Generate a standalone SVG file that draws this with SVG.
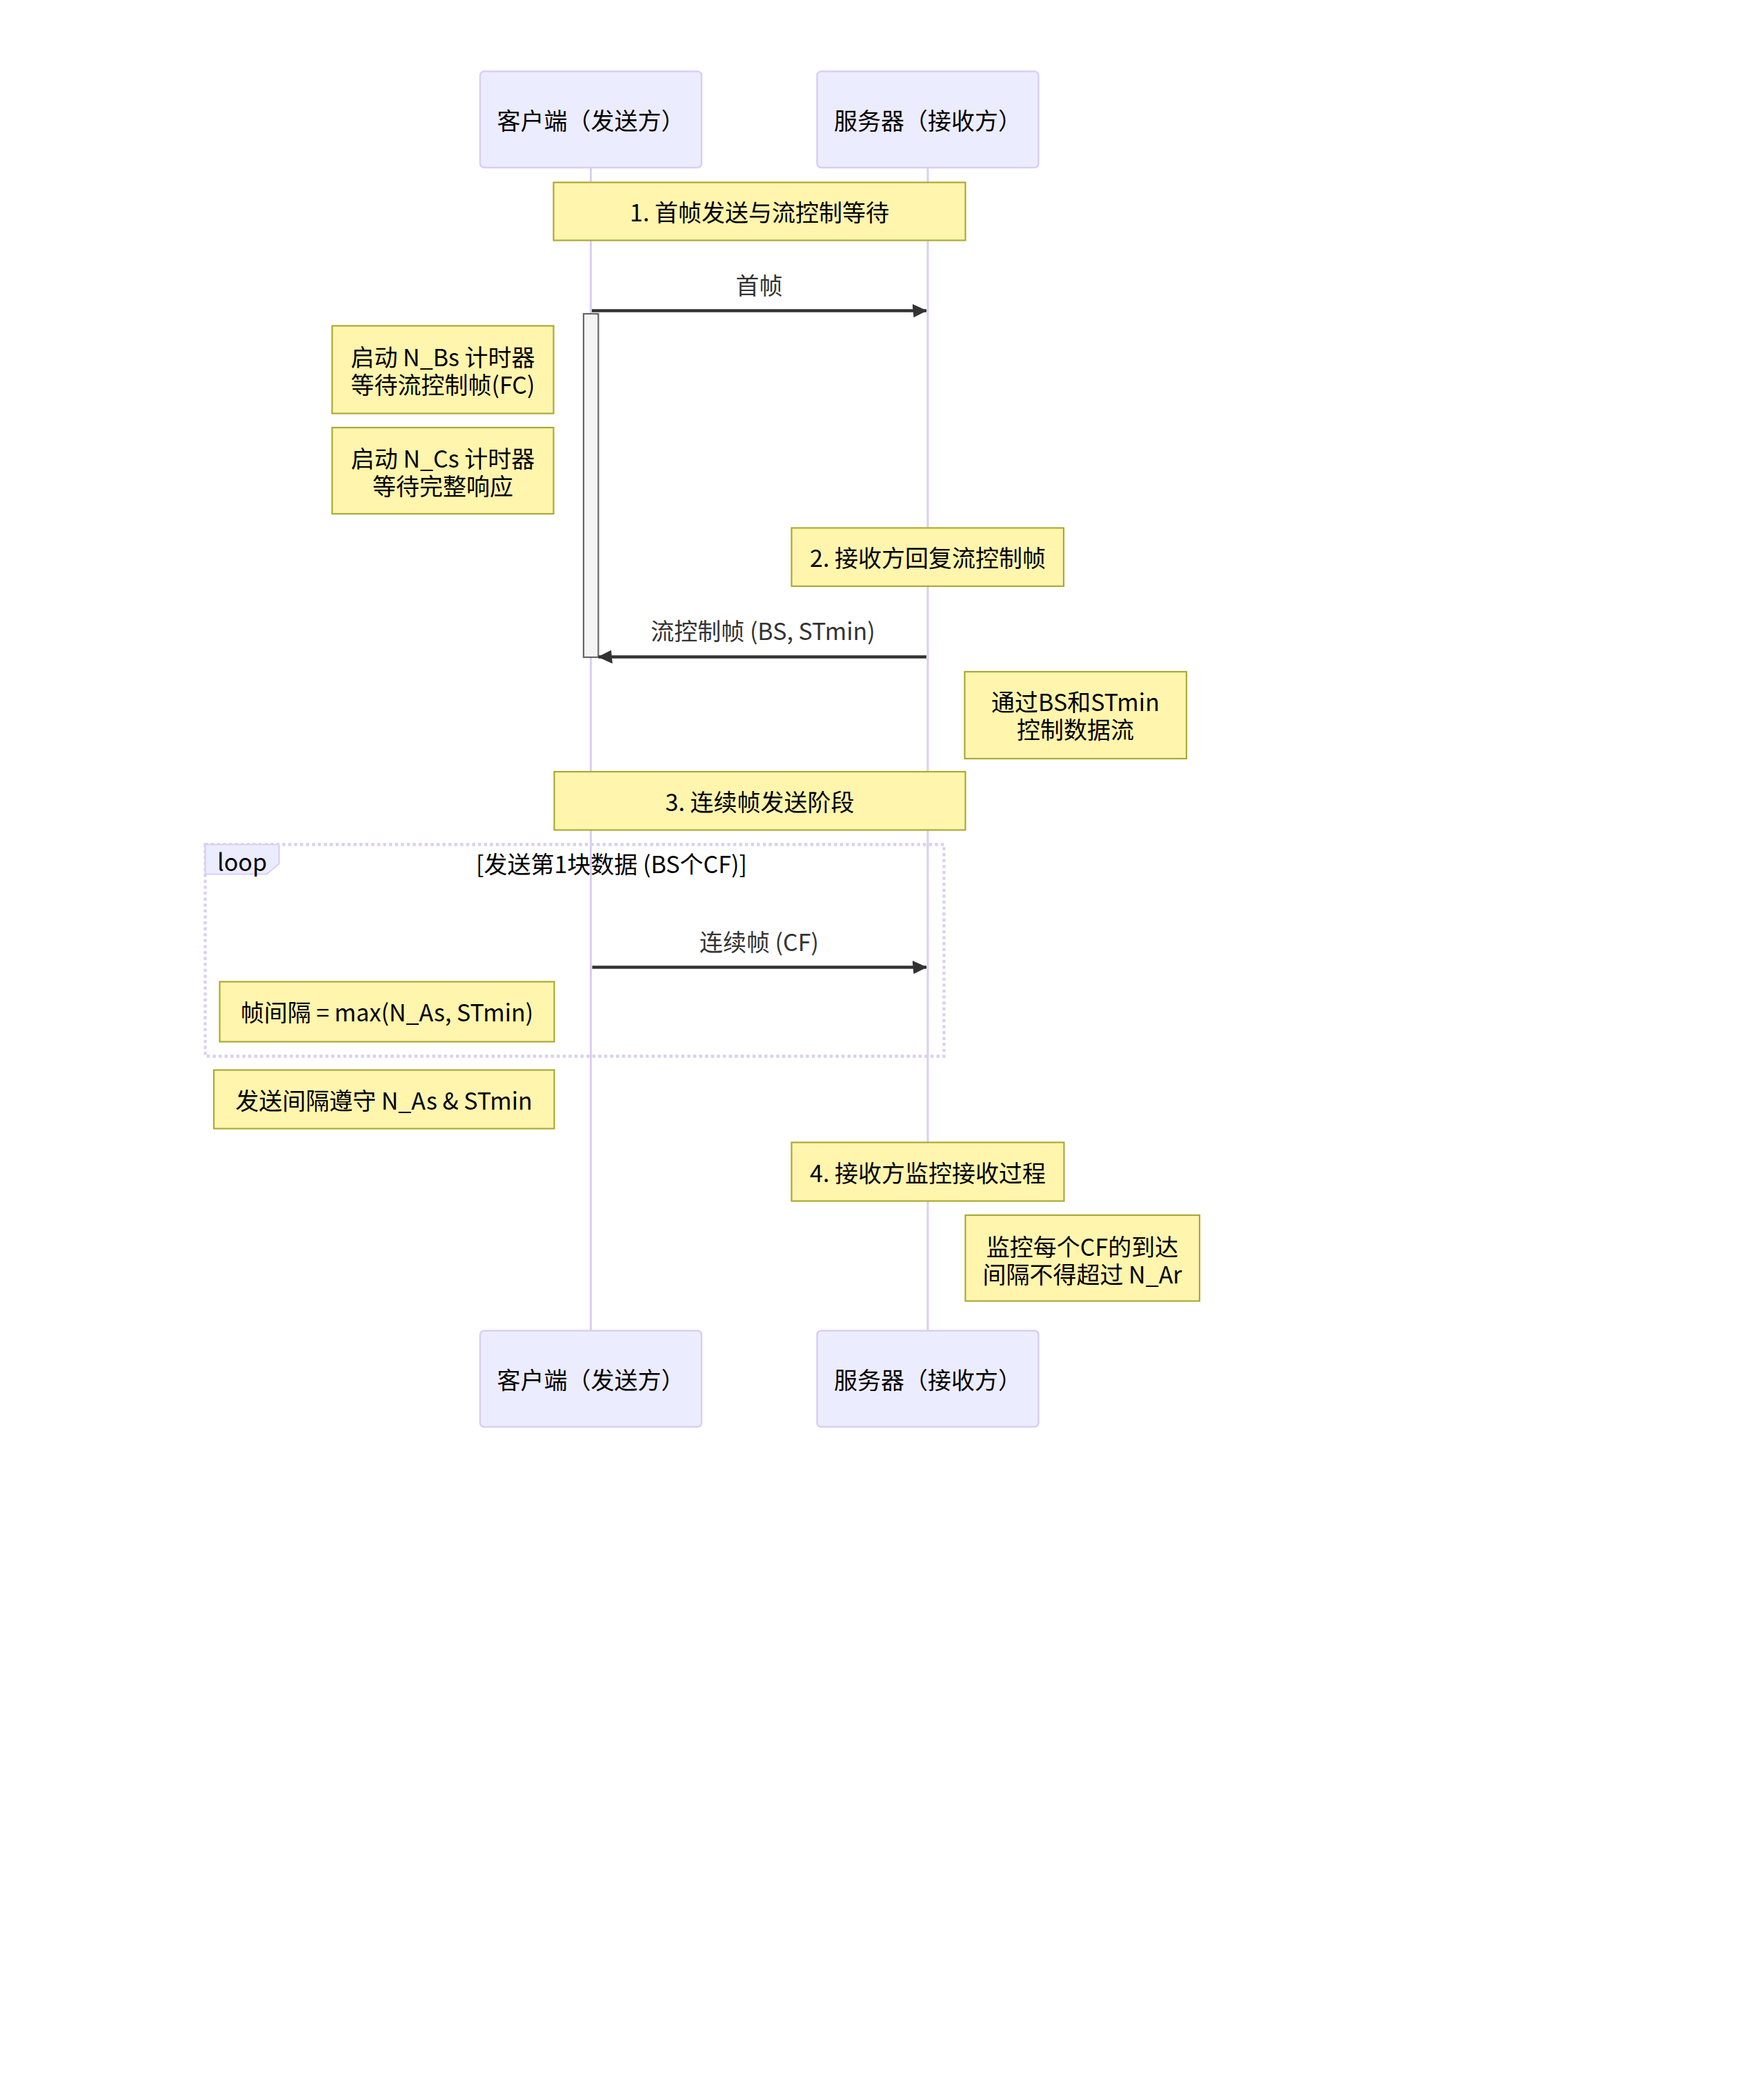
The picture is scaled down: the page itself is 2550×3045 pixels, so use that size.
<svg xmlns="http://www.w3.org/2000/svg" width="2550" height="3045" viewBox="0 0 2550 3045">
<style>
text{font-family:"Noto Sans CJK SC","Noto Sans",sans-serif;font-size:34px;text-anchor:middle;dominant-baseline:central}
.actor{fill:#ECECFF;stroke:#dacef3;stroke-width:2.5}
.atext{fill:#000}
.lifeline{stroke:#dacef3;stroke-width:3}
.note{fill:#fff5ad;stroke:#aaaa33;stroke-width:2.2}
.ntext{fill:#000}
.msg{stroke:#333;stroke-width:4.3;fill:none}
.mtext{fill:#333}
.act{fill:#f4f4f4;stroke:#666;stroke-width:2.2}
.loopline{stroke:#dacef3;stroke-width:4.3;stroke-dasharray:4.3,4.3;fill:none}
.labelbox{fill:#ECECFF;stroke:#dacef3;stroke-width:2.2}
</style>
<defs>
<marker id="arrow" viewBox="-1 0 11 10" refX="9.5" refY="5" markerWidth="21.4" markerHeight="21.4" markerUnits="userSpaceOnUse" orient="auto">
<path d="M -1 0 L 10 5 L 0 10 z" fill="#333"/>
</marker>
</defs>
<rect width="2550" height="3045" fill="#fff"/>
<g id="lifelines">
<line class="lifeline" x1="856.5" y1="243" x2="856.5" y2="1929"/>
<line class="lifeline" x1="1345" y1="243" x2="1345" y2="1929"/>
</g>
<g id="actor-client-top"><rect class="actor" x="696" y="103.5" width="321" height="139.5" rx="6"/><text class="atext" x="856.5" y="173.5">客户端（发送方）</text></g>
<g id="actor-server-top"><rect class="actor" x="1184.5" y="103.5" width="321" height="139.5" rx="6"/><text class="atext" x="1345" y="173.5">服务器（接收方）</text></g>
<g id="actor-client-bottom"><rect class="actor" x="696" y="1929.5" width="321" height="139.5" rx="6"/><text class="atext" x="856.5" y="1999.5">客户端（发送方）</text></g>
<g id="actor-server-bottom"><rect class="actor" x="1184.5" y="1929.5" width="321" height="139.5" rx="6"/><text class="atext" x="1345" y="1999.5">服务器（接收方）</text></g>
<g id="loop">
<rect class="loopline" x="297.5" y="1224.5" width="1071" height="307"/>
<polygon class="labelbox" points="297.5,1224.5 404.5,1224.5 404.5,1252.5 386.5,1267.5 297.5,1267.5"/>
<text x="351" y="1248" fill="#000">loop</text>
<text x="886.5" y="1251" fill="#000">[发送第1块数据 (BS个CF)]</text>
</g>
<g id="activation"><rect class="act" x="846" y="455" width="21.4" height="498"/></g>
<g id="connectors">
<line class="msg" x1="858" y1="450.5" x2="1343" y2="450.5" marker-end="url(#arrow)"/>
<text class="mtext" x="1100.5" y="412">首帧</text>
<line class="msg" x1="1343" y1="952.5" x2="867.5" y2="952.5" marker-end="url(#arrow)"/>
<text class="mtext" x="1106" y="913.5">流控制帧 (BS, STmin)</text>
<line class="msg" x1="858.5" y1="1402.5" x2="1343" y2="1402.5" marker-end="url(#arrow)"/>
<text class="mtext" x="1100.5" y="1364">连续帧 (CF)</text>
</g>
<g id="note1"><rect class="note" x="802.5" y="264.5" width="597" height="84"/><text class="ntext" x="1101" y="306.5">1. 首帧发送与流控制等待</text></g>
<g id="note-nbs"><rect class="note" x="481.5" y="472.5" width="321" height="127"/><text class="ntext" x="642" y="516">启动 N_Bs 计时器</text><text class="ntext" x="642" y="556">等待流控制帧(FC)</text></g>
<g id="note-ncs"><rect class="note" x="481.5" y="620" width="321" height="125"/><text class="ntext" x="642" y="663.5">启动 N_Cs 计时器</text><text class="ntext" x="642" y="703.5">等待完整响应</text></g>
<g id="note2"><rect class="note" x="1147.5" y="765.5" width="394.5" height="84.5"/><text class="ntext" x="1345" y="807.5">2. 接收方回复流控制帧</text></g>
<g id="note-bs"><rect class="note" x="1398.5" y="974" width="321.5" height="126"/><text class="ntext" x="1559" y="1016">通过BS和STmin</text><text class="ntext" x="1559" y="1056">控制数据流</text></g>
<g id="note3"><rect class="note" x="803.5" y="1119" width="596" height="84.5"/><text class="ntext" x="1101.5" y="1161">3. 连续帧发送阶段</text></g>
<g id="note-interval"><rect class="note" x="318.5" y="1423.5" width="485" height="87"/><text class="ntext" x="561" y="1466.5">帧间隔 = max(N_As, STmin)</text></g>
<g id="note-obey"><rect class="note" x="310" y="1551.5" width="493.5" height="85"/><text class="ntext" x="556.5" y="1594.5">发送间隔遵守 N_As &amp; STmin</text></g>
<g id="note4"><rect class="note" x="1147.5" y="1656.5" width="395" height="85"/><text class="ntext" x="1345" y="1699.5">4. 接收方监控接收过程</text></g>
<g id="note-nar"><rect class="note" x="1399.5" y="1762" width="339.5" height="124.5"/><text class="ntext" x="1569" y="1806.5">监控每个CF的到达</text><text class="ntext" x="1569" y="1846.5">间隔不得超过 N_Ar</text></g>
</svg>
